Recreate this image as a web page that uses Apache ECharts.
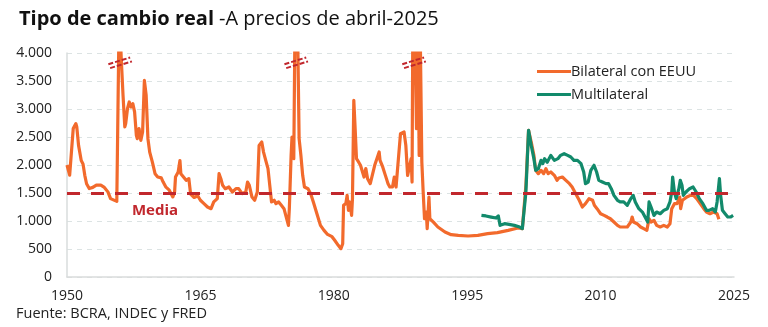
<!DOCTYPE html>
<html>
<head>
<meta charset="utf-8">
<script src="https://cdn.jsdelivr.net/npm/echarts@6/dist/echarts.min.js"></script>
<style>
html,body{margin:0;padding:0;background:#fff;}
#chart{width:768px;height:327px;}
</style>
</head>
<body>
<div id="chart"></div>
<script>
// ---- Data ----
const bilateralYears = [
1950.0,1950.3,1950.5,1950.7,1951.0,1951.1,1951.3,1951.6,1951.8,1952.0,1952.2,1952.5,1952.9,1953.3,1953.8,1954.2,1954.6,1954.9,1955.1,1955.6,
1955.75,1955.85,1956.0,1956.1,1956.3,1956.5,1956.6,1956.8,1957.0,1957.2,1957.4,1957.6,1957.8,1957.9,1958.1,1958.3,1958.5,1958.7,1958.9,1959.1,
1959.3,1959.4,1959.6,1959.9,1960.2,1960.6,1960.8,1961.1,1961.5,1961.9,1962.1,1962.2,1962.5,1962.7,1962.8,1963.1,1963.4,1963.7,1963.9,1964.3,
1964.7,1965.0,1965.4,1965.8,1966.2,1966.5,1966.9,1967.1,1967.3,1967.5,1967.8,1968.2,1968.6,1969.0,1969.3,1969.7,1970.1,1970.3,1970.5,1970.8,
1971.1,1971.4,1971.6,1971.9,1972.1,1972.4,1972.6,1972.8,1973.0,1973.3,1973.5,1973.8,1974.1,1974.4,1974.6,1974.9,1975.0,1975.2,1975.3,1975.5,
1975.65,1975.8,1975.95,1976.1,1976.3,1976.5,1976.7,1977.1,1977.4,1977.7,1978.1,1978.5,1978.9,1979.3,1979.8,1980.1,1980.5,1980.8,1981.0,1981.1,
1981.35,1981.5,1981.65,1981.8,1982.0,1982.1,1982.25,1982.4,1982.55,1982.8,1983.0,1983.2,1983.4,1983.6,1983.8,1984.1,1984.3,1984.6,1984.8,1985.1,
1985.2,1985.5,1985.8,1986.1,1986.3,1986.6,1986.8,1987.0,1987.2,1987.5,1987.7,1987.9,1988.1,1988.3,1988.4,1988.7,1988.8,1988.9,1989.1,1989.3,
1989.4,1989.6,1989.7,1989.9,1990.05,1990.2,1990.4,1990.5,1990.7,1990.8,1991.2,1991.7,1992.5,1993.2,1994.0,1995.1,1996.2,1997.3,1998.4,1999.6,
2000.7,2001.2,2001.4,2001.6,2001.9,2002.2,2002.5,2002.7,2003.0,2003.3,2003.6,2003.85,2004.1,2004.4,2004.8,2005.1,2005.3,2005.7,2006.1,2006.5,
2006.8,2007.2,2007.6,2007.95,2008.3,2008.7,2009.1,2009.3,2009.6,2010.0,2010.4,2010.75,2011.1,2011.5,2011.9,2012.2,2012.6,2013.0,2013.4,2013.55,
2013.7,2014.1,2014.5,2014.85,2015.2,2015.45,2015.67,2016.0,2016.3,2016.7,2017.1,2017.5,2017.8,2018.0,2018.3,2018.6,2018.9,2019.0,2019.2,2019.4,
2019.7,2020.1,2020.45,2020.8,2021.2,2021.6,2021.9,2022.3,2022.7,2023.1,2023.3
];
const bilateralValues = [
2000,1820,1790,2650,2740,2680,2350,2080,2020,1815,1665,1580,1600,1640,1640,1600,1520,1400,1370,1350,
1360,4500,4300,3900,3245,2680,2740,3005,3125,3035,3095,2950,2530,2470,2650,2440,2590,3510,3245,2470,
2230,2260,2050,1845,1785,1770,1700,1610,1550,1430,1520,1785,1875,2080,1845,1785,1726,1756,1480,1420,
1450,1370,1310,1250,1220,1340,1400,1845,1756,1637,1577,1607,1518,1577,1577,1488,1518,1696,1637,1428,
1370,1518,2350,2410,2230,2050,1935,1637,1340,1370,1310,1340,1280,1220,1100,922,1220,2172,2500,2113,
4800,5000,4200,2470,2172,1815,1607,1577,1488,1340,1130,922,833,760,720,655,565,506,595,1280,
1310,1458,1190,1340,1100,1400,3155,2650,2113,2050,1995,1965,1785,1935,1756,1667,1696,1995,2024,2232,
2083,1965,1815,1667,1607,1607,1785,1607,1637,2560,2560,2590,2350,1815,1785,2113,1696,5000,4500,2650,
5200,2172,4600,2050,1518,1040,1160,863,1428,1040,980,893,804,756,744,732,744,774,792,833,
875,863,875,1637,2620,2410,2172,1905,1845,1905,1845,1935,1845,1875,1815,1726,1768,1785,1726,1667,
1607,1488,1370,1250,1310,1400,1370,1280,1220,1130,1100,1071,1040,982,922,893,893,893,982,1071,
982,952,893,863,833,1040,982,1012,922,893,922,893,952,1220,1310,1310,1428,1220,1370,1340,
1428,1458,1458,1400,1310,1220,1160,1130,1160,1130,1030
];
const multilateralYears = [
1996.6,1997.1,1997.7,1998.25,1998.5,1998.7,1999.2,1999.7,2000.3,2000.9,2001.2,2001.4,2001.6,2001.9,2002.2,2002.5,2002.7,2003.0,2003.3,2003.5,
2003.7,2004.0,2004.4,2004.8,2005.2,2005.5,2005.9,2006.3,2006.65,2007.0,2007.4,2007.8,2008.1,2008.3,2008.6,2008.9,2009.26,2009.55,2009.8,2010.2,
2010.6,2010.9,2011.2,2011.5,2011.9,2012.2,2012.6,2013.0,2013.4,2013.66,2013.9,2014.3,2014.7,2015.0,2015.3,2015.45,2015.67,2016.0,2016.3,2016.7,
2017.1,2017.5,2017.8,2018.0,2018.1,2018.3,2018.5,2018.8,2018.96,2019.15,2019.3,2019.6,2020.0,2020.4,2020.75,2021.1,2021.5,2021.9,2022.2,2022.6,
2022.9,2023.1,2023.36,2023.5,2023.7,2024.0,2024.3,2024.6,2024.9
];
const multilateralValues = [
1100,1090,1070,1053,1090,922,952,940,922,893,863,893,1518,2620,2350,2113,1905,1935,2083,2024,
2113,2050,2172,2083,2113,2172,2202,2172,2143,2083,2083,2024,1875,1667,1696,1905,1995,1875,1726,1696,
1667,1667,1577,1458,1370,1340,1340,1280,1400,1458,1340,1220,1160,1071,982,1340,1250,1100,1160,1130,
1190,1220,1340,1518,1785,1518,1400,1577,1726,1637,1458,1518,1577,1607,1518,1400,1310,1190,1190,1220,
1160,1340,1756,1458,1190,1130,1071,1071,1100
];
const meanValue = 1500;
const breakYears = [1955.9, 1975.7, 1988.95];
const xTicks = [1950, 1965, 1980, 1995, 2010, 2025];
const seriesNames = ['Bilateral con EEUU', 'Multilateral'];

// ---- Build ----
const zip = (xs, ys) => xs.map((x, i) => [x, ys[i]]);
const fmt = v => v >= 1000 ? Math.floor(v/1000) + '.' + String(v % 1000).padStart(3, '0') : String(v);
const FONT = 'Open Sans';
const ORANGE = '#f26a2c';
const GREEN = '#128a6b';
const RED = '#c1272d';

const breakLines = [];
breakYears.forEach(c => {
  breakLines.push([{coord: [c - 1.25, 3800]}, {coord: [c + 1.2, 3920]}]);
  breakLines.push([{coord: [c - 1.05, 3730]}, {coord: [c + 1.4, 3850]}]);
});

const chart = echarts.init(document.getElementById('chart'), null, {renderer: 'canvas'});
chart.setOption({
  animation: false,
  backgroundColor: '#fff',
  title: {
    left: 14, top: 4,
    text: '{b|Tipo de cambio real} {r|-A precios de abril-2025}',
    textStyle: {
      rich: {
        b: {fontFamily: FONT, fontWeight: 'bold', fontSize: 20, color: '#111'},
        r: {fontFamily: FONT, fontWeight: 'normal', fontSize: 20, color: '#111'}
      }
    }
  },
  legend: {
    data: seriesNames,
    orient: 'vertical',
    left: 532, top: 59,
    itemWidth: 34, itemHeight: 12, itemGap: 8,
    icon: 'path://M0,0 L34,0 L34,3 L0,3 Z',
    textStyle: {fontFamily: FONT, fontSize: 14.5, color: '#222', padding: [0,0,0,-5]}
  },
  graphic: [{
    type: 'text', left: 16, top: 306,
    style: {text: 'Fuente: BCRA, INDEC y FRED', fontFamily: FONT, fontSize: 14.5, fill: '#222'}
  }],
  grid: {left: 67, right: 34, top: 53, bottom: 50},
  xAxis: {
    type: 'value', min: xTicks[0], max: xTicks[xTicks.length-1], interval: 15,
    axisLine: {show: true, lineStyle: {color: '#d9dcdc', width: 1.5}},
    axisTick: {show: false},
    splitLine: {show: false},
    axisLabel: {fontFamily: FONT, fontSize: 14, color: '#222', margin: 12, formatter: v => String(v)}
  },
  yAxis: {
    type: 'value', min: 0, max: 4000, interval: 500,
    axisLine: {show: true, lineStyle: {color: '#d9dcdc', width: 1.5}},
    axisTick: {show: false},
    splitLine: {show: true, lineStyle: {color: '#dce3e3', type: [5, 5], width: 1}},
    axisLabel: {fontFamily: FONT, fontSize: 14, color: '#222', margin: 15, formatter: fmt}
  },
  series: [
    {
      name: seriesNames[0], type: 'line', data: zip(bilateralYears, bilateralValues),
      showSymbol: false, symbol: 'none', clip: true, z: 2,
      lineStyle: {color: ORANGE, width: 3.2, join: 'round'}, itemStyle: {color: ORANGE}
    },
    {
      name: seriesNames[1], type: 'line', data: zip(multilateralYears, multilateralValues),
      showSymbol: false, symbol: 'none', clip: true, z: 3,
      lineStyle: {color: GREEN, width: 3.2, join: 'round'}, itemStyle: {color: GREEN}
    },
    {
      name: 'aux', type: 'line', data: [], z: 5, symbol: 'none',
      markLine: {
        silent: true, symbol: ['none', 'none'],
        label: {show: false},
        lineStyle: {color: RED, width: 3, type: [13, 11]},
        data: [{yAxis: meanValue}]
      },
      markPoint: {
        silent: true, symbol: 'rect', symbolSize: 0,
        label: {show: true, formatter: 'Media', fontFamily: FONT, fontWeight: 'bold', fontSize: 15, color: RED},
        data: [{coord: [1959.9, 1190]}]
      }
    },
    {
      name: 'breaks', type: 'line', data: [], z: 6, symbol: 'none',
      markLine: {
        silent: true, symbol: ['none', 'none'],
        label: {show: false},
        lineStyle: {color: RED, width: 2, type: [5, 2]},
        data: breakLines
      }
    }
  ]
});
</script>
</body>
</html>
